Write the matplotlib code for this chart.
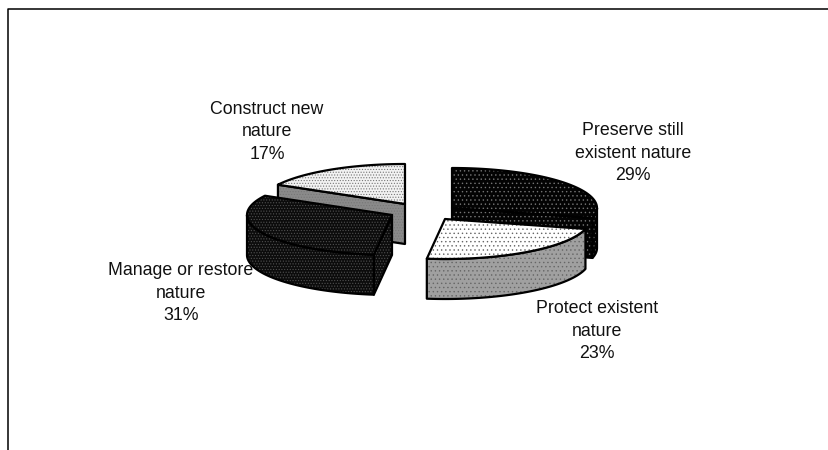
import numpy as np
import matplotlib
matplotlib.use('Agg')
import matplotlib.pyplot as plt
from matplotlib.patches import Polygon

plt.rcParams['font.family'] = ['Liberation Sans', 'DejaVu Sans']
plt.rcParams['hatch.linewidth'] = 0.5

# Chart values
labels = ['Preserve still\nexistent nature', 'Protect existent\nnature',
          'Manage or restore\nnature', 'Construct new\nnature']
shares = [29, 23, 31, 17]

# Look of each slice: apex, top colour, wall colour, hatch, hatch colour
apex = [(452, 208), (445, 219), (392, 215), (405, 204)]
top_colors = ['#030303', '#ffffff', '#0c0c0c', '#f2f2f2']
wall_colors = ['#030303', '#a0a0a0', '#0c0c0c', '#8a8a8a']
top_hatch = ['....', '....', '......', '......']
wall_hatch = ['....', '....', '......', '......']
dot_colors = ['#747474', '#666666', '#505050', '#777777']
label_pos = [(633, 153), (597, 331), (181, 293), (267, 132)]
draw_order = [3, 2, 0, 1]

radius_x = 145
radius_y = 40
depth = 40

fig = plt.figure(figsize=(8.29, 4.5), dpi=100)
ax = fig.add_axes([0, 0, 1, 1])
ax.set_xlim(0, 829)
ax.set_ylim(450, 0)
ax.axis('off')

# frame around the chart, only top and left show
ax.plot([8, 8, 829], [450, 8.5, 8.5], color='black', lw=1.1)


def shape(fc, pts, hatch, dots, z):
    # fill with dots first, outline on top so the hatch colour stays separate
    ax.add_patch(Polygon(pts, closed=True, facecolor=fc, edgecolor=dots,
                         hatch=hatch, lw=0, zorder=z))
    ax.add_patch(Polygon(pts, closed=True, fill=False, edgecolor='black',
                         lw=1.6, joinstyle='round', zorder=z + 0.1))


def rim(cx, cy, a0, a1):
    t = np.radians(np.linspace(a0, a1, 80))
    return np.column_stack([cx + radius_x * np.sin(t), cy - radius_y * np.cos(t)])


# angles run clockwise from 12 o'clock
ends = np.cumsum(shares) / np.sum(shares) * 360
starts = np.concatenate([[0], ends[:-1]])

for order, i in enumerate(draw_order):
    cx, cy = apex[i]
    a0, a1 = starts[i], ends[i]
    z = 2 + order
    arc = rim(cx, cy, a0, a1)

    # side wall along the radial edge that faces the viewer
    if a1 < 180:
        edge = arc[-1]
    elif a0 > 90:
        edge = arc[0]
    else:
        edge = None
    if edge is not None and not (90 < a0 < 180):
        wall = [(cx, cy), edge, edge + [0, depth], (cx, cy + depth)]
        shape(wall_colors[i], wall, wall_hatch[i], dot_colors[i], z)

    # outer wall, only the front half of the ellipse
    lo, hi = max(a0, 90), min(a1, 270)
    if lo < hi:
        front = rim(cx, cy, lo, hi)
        pts = np.vstack([front, (front + [0, depth])[::-1]])
        shape(wall_colors[i], pts, wall_hatch[i], dot_colors[i], z + 0.2)

    # top face
    pts = np.vstack([[(cx, cy)], arc])
    shape(top_colors[i], pts, top_hatch[i], dot_colors[i], z + 0.4)

for lab, val, (x, y) in zip(labels, shares, label_pos):
    ax.text(x, y, f'{lab}\n{val}%', ha='center', va='center', fontsize=12.8,
            color='#111111', linespacing=1.42, zorder=20)

fig.savefig('out.png', dpi=100)
